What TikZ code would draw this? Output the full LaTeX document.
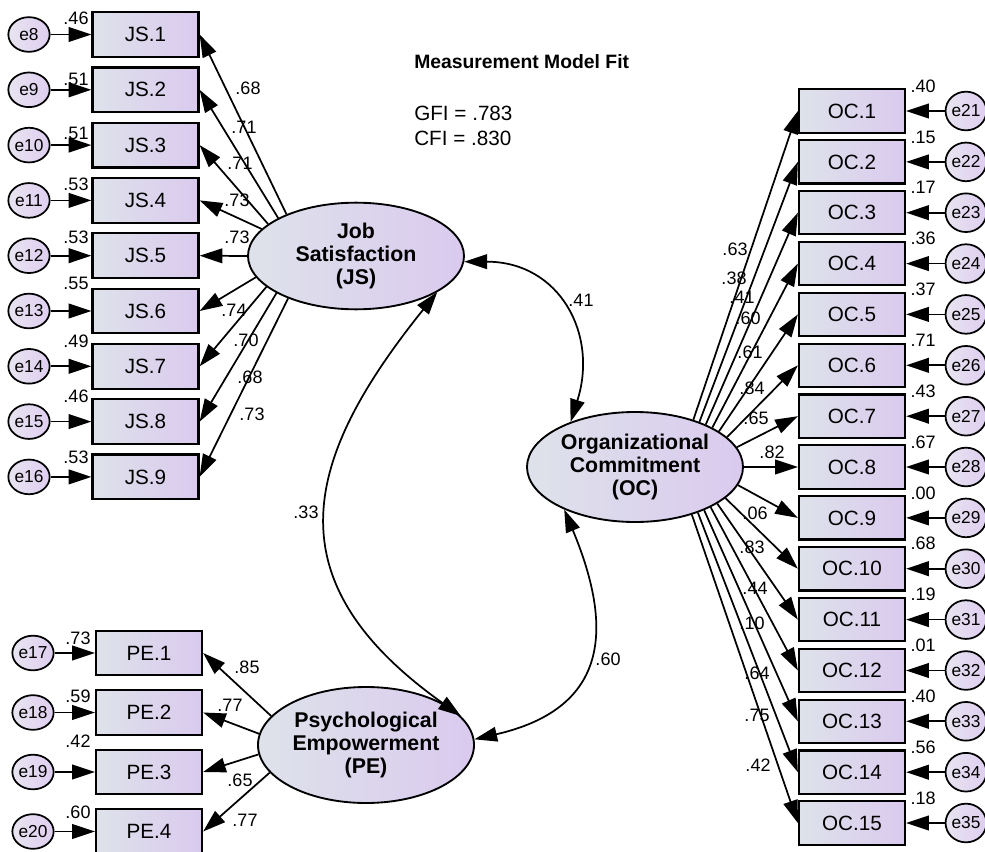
\documentclass[tikz,border=0pt]{standalone}
\usepackage{fontspec}
\setmainfont{Liberation Sans}
\usetikzlibrary{arrows.meta,shapes.geometric}
\definecolor{fl}{RGB}{222,226,234}
\definecolor{fr}{RGB}{218,202,238}
\definecolor{el}{RGB}{232,228,240}
\definecolor{er}{RGB}{222,206,240}
\begin{document}
\begin{tikzpicture}[x=0.75pt,y=-0.75pt,
  box/.style={draw=black,line width=1.7pt,shading=axis,left color=fl,right color=fr,minimum width=79.5pt,minimum height=33.5pt,inner sep=0pt,font=\fontsize{15.5}{18}\selectfont},
  ocbox/.style={box,minimum height=32.5pt},
  err/.style={ellipse,draw=black,line width=1.3pt,shading=axis,left color=el,right color=er,minimum width=31pt,minimum height=26pt,inner sep=0pt,font=\fontsize{13}{15}\selectfont},
  errr/.style={err,minimum width=29pt,minimum height=29pt},
  lat/.style={ellipse,draw=black,line width=1.4pt,shading=axis,left color=fl,right color=fr,minimum width=162pt,inner sep=0pt,align=center,font=\bfseries\fontsize{16}{17.5}\selectfont},
  val/.style={font=\fontsize{13.5}{15}\selectfont,inner sep=0pt},
  arr/.style={line width=1.3pt,-{Triangle[length=17pt,width=11pt]}},
  darr/.style={line width=1.3pt,{Triangle[length=17pt,width=11pt]}-{Triangle[length=17pt,width=11pt]}},
]
\useasboundingbox (0,0) rectangle (985,852);

% latent variables
\node[lat,minimum height=80pt] (JS) at (356,256) {Job\\Satisfaction\\(JS)};
\node[lat,minimum height=82.5pt] (OC) at (635,467) {Organizational\\Commitment\\(OC)};
\node[lat,minimum height=87pt] (PE) at (366,745) {Psychological\\Empowerment\\(PE)};

% title
\node[anchor=west,inner sep=0pt,font=\bfseries\fontsize{14.5}{17}\selectfont] (title) at (414,62) {Measurement Model Fit};
\node[anchor=west,inner sep=0pt,font=\fontsize{15.5}{18}\selectfont] (gfi) at (414,113) {GFI = .783};
\node[anchor=west,inner sep=0pt,font=\fontsize{15.5}{18}\selectfont] (cfi) at (414,138) {CFI = .830};

% JS indicators
\foreach \i/\e/\y/\ry/\r/\a/\l/\lx/\ly in {
 1/8/34.5/18/.46/149/.68/248/88,
 2/9/89.8/79/.51/154/.71/244/127,
 3/10/145.1/133/.51/160/.71/240/163,
 4/11/200.4/184/.53/164/.73/237/200,
 5/12/255.7/237/.53/180/.73/237/237,
 6/13/311/283/.55/192/.74/234/310,
 7/14/366.3/341/.49/199/.70/246/340,
 8/15/421.6/396/.46/205/.68/250/377,
 9/16/476.9/457/.53/212/.73/252/414}{
  \node[box] (JS\i) at (145.5,\y) {JS.\i};
  \node[err] (e\e) at (29,\y) {e\e};
  \draw[arr] (e\e) -- (JS\i);
  \node[val] (r\e) at (76,\ry) {\r};
  \draw[arr] (JS.\a) -- (JS\i.east);
  \node[val] (lj\i) at (\lx,\ly) {\l};
}

% PE indicators
\foreach \i/\e/\y/\ry/\r/\a/\l/\lx/\ly in {
 1/17/653/638/.73/163.5/.85/247/667,
 2/18/712.5/696/.59/174/.77/230/705,
 3/19/772/741/.42/185/.65/240/780,
 4/20/831.5/812/.60/196/.77/245/820}{
  \node[box] (PE\i) at (149,\y) {PE.\i};
  \node[err] (e\e) at (33,\y) {e\e};
  \draw[arr] (e\e) -- (PE\i);
  \node[val] (r\e) at (78,\ry) {\r};
  \draw[arr] (PE.\a) -- (PE\i.east);
  \node[val] (lp\i) at (\lx,\ly) {\l};
}

% OC indicators
\foreach \i/\e/\y/\r/\a/\l/\lx/\ly in {
 1/21/111/.40/39/.63/735/249,
 2/22/161.9/.15/35/.38/734/278,
 3/23/212.7/.17/31/.41/742/297,
 4/24/263.6/.36/27/.60/748/318,
 5/25/314.4/.37/23/.61/750/352,
 6/26/365.3/.71/18/.84/752/388,
 7/27/416.2/.43/11/.65/756/418,
 8/28/467/.67/0/.82/772/452,
 9/29/517.9/.00/-10/.06/755/513,
 10/30/568.7/.68/-19/.83/752/547,
 11/31/619.6/.19/-24/.44/755/588,
 12/32/670.5/.01/-28/.10/752/623,
 13/33/721.3/.40/-32/.64/757/673,
 14/34/772.2/.56/-36/.75/757/715,
 15/35/823/.18/-40/.42/758/765}{
  \node[ocbox] (OC\i) at (852,\y) {OC.\i};
  \node[errr] (e\e) at (966,\y) {e\e};
  \draw[arr] (e\e) -- (OC\i);
  \node[val] (r\e) at (923,\y-25) {\r};
  \draw[arr] (OC.\a) -- (OC\i.west);
  \node[val] (lo\i) at (\lx,\ly) {\l};
}

% covariances
\draw[darr] (JS.-3) .. controls +(95,0) and +(28,-88) .. (OC.145);
\node[val] (c41) at (581,300) {.41};
\draw[darr] (JS.-24) .. controls +(-135,168) and +(-190,-135) .. (PE.17);
\node[val] (c33) at (306,512) {.33};
\draw[darr] (OC.211) .. controls +(52,125) and +(130,-30) .. (PE.3);
\node[val] (c60) at (608,659) {.60};
\end{tikzpicture}
\end{document}
